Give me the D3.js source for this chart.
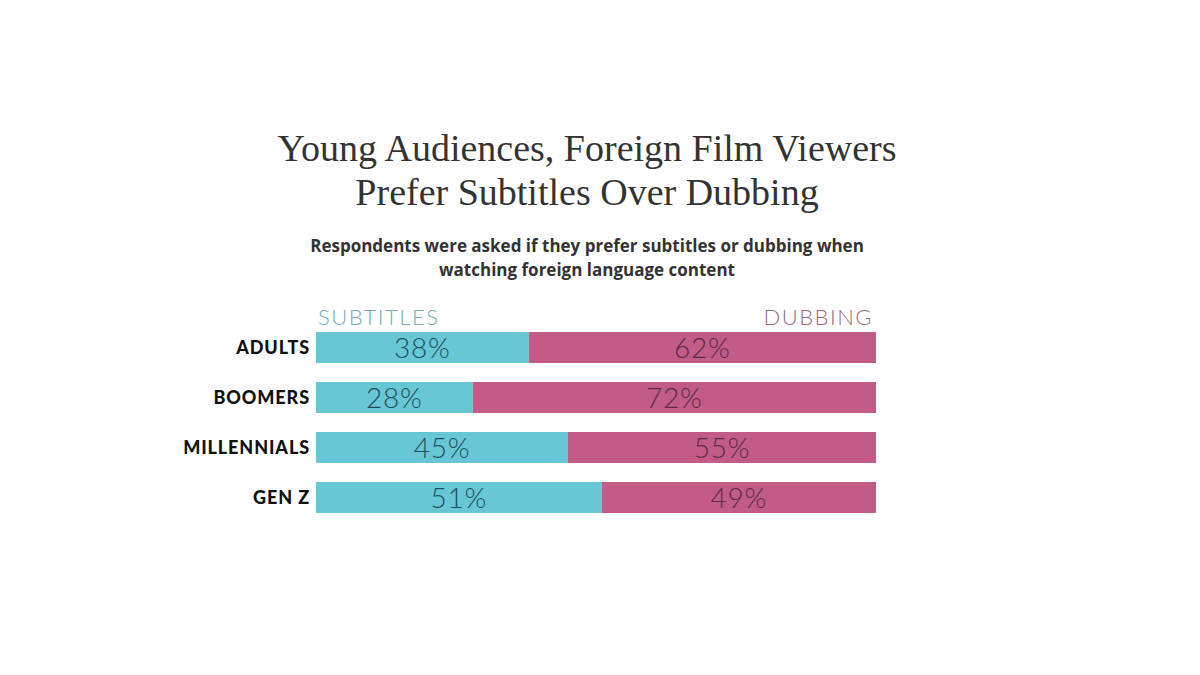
<!DOCTYPE html>
<html>
<head>
<meta charset="utf-8">
<script src="https://cdn.jsdelivr.net/npm/d3@7"></script>
<style>
  body { margin: 0; background: #fff; }
</style>
</head>
<body>
<div id="container"></div>
<script>
const groups = ["ADULTS", "BOOMERS", "MILLENNIALS", "GEN Z"];
const subtitles = [38, 28, 45, 51];
const dubbing = [62, 72, 55, 49];
const seriesNames = ["SUBTITLES", "DUBBING"];

const width = 1200;
const height = 675;
const barLeft = 316;
const barRight = 876;

const svg = d3.select("#container").append("svg")
  .attr("width", width)
  .attr("height", height);

svg.append("rect").attr("width", width).attr("height", height).attr("fill", "#fff");

// titles
const title = svg.append("text")
  .attr("text-anchor", "middle")
  .attr("font-family", "Liberation Serif")
  .attr("font-size", 38)
  .attr("fill", "#333");
title.append("tspan").attr("x", 587).attr("y", 161).text("Young Audiences, Foreign Film Viewers");
title.append("tspan").attr("x", 587).attr("y", 205).text("Prefer Subtitles Over Dubbing");

const sub = svg.append("text")
  .attr("text-anchor", "middle")
  .attr("font-family", "Open Sans")
  .attr("font-weight", 700)
  .attr("font-size", 17)
  .attr("fill", "#333");
sub.append("tspan").attr("x", 587).attr("y", 252).text("Respondents were asked if they prefer subtitles or dubbing when");
sub.append("tspan").attr("x", 587).attr("y", 276).text("watching foreign language content");

// scales
const x = d3.scaleLinear().domain([0, 100]).range([barLeft, barRight]);
const y = d3.scaleBand().domain(groups).range([332, 513]).paddingInner(0.38).paddingOuter(0);

const rows = groups.map((g, i) => ({ group: g, sub: subtitles[i], dub: dubbing[i] }));

// legend headers
svg.append("text")
  .attr("x", x(0) + 2)
  .attr("y", 325)
  .attr("font-family", "Lato")
  .attr("font-weight", 300)
  .attr("font-size", 22)
  .attr("letter-spacing", 1.5)
  .attr("fill", "#7aa9b4")
  .text(seriesNames[0]);
svg.append("text")
  .attr("x", x(100) - 3)
  .attr("y", 325)
  .attr("text-anchor", "end")
  .attr("font-family", "Lato")
  .attr("font-weight", 300)
  .attr("font-size", 22)
  .attr("letter-spacing", 1.5)
  .attr("fill", "#9a6a83")
  .text(seriesNames[1]);

const rowG = svg.selectAll(".row").data(rows).enter()
  .append("g")
  .attr("class", "row");

rowG.append("rect")
  .attr("x", x(0))
  .attr("y", d => y(d.group))
  .attr("width", d => x(d.sub) - x(0))
  .attr("height", y.bandwidth())
  .attr("fill", "#68c7d4");

rowG.append("rect")
  .attr("x", d => x(d.sub))
  .attr("y", d => y(d.group))
  .attr("width", d => x(d.sub + d.dub) - x(d.sub))
  .attr("height", y.bandwidth())
  .attr("fill", "#c25c87");

rowG.append("text")
  .attr("x", d => (x(0) + x(d.sub)) / 2)
  .attr("y", d => y(d.group) + y.bandwidth() / 2 + 10)
  .attr("text-anchor", "middle")
  .attr("font-family", "Lato")
  .attr("font-weight", 300)
  .attr("font-size", 28)
  .attr("letter-spacing", 0.8)
  .attr("fill", "#1e4f5c")
  .text(d => d.sub + "%");

rowG.append("text")
  .attr("x", d => (x(d.sub) + x(d.sub + d.dub)) / 2)
  .attr("y", d => y(d.group) + y.bandwidth() / 2 + 10)
  .attr("text-anchor", "middle")
  .attr("font-family", "Lato")
  .attr("font-weight", 300)
  .attr("font-size", 28)
  .attr("letter-spacing", 0.8)
  .attr("fill", "#5b2b43")
  .text(d => d.dub + "%");

rowG.append("text")
  .attr("x", x(0) - 6)
  .attr("y", d => y(d.group) + y.bandwidth() / 2 + 6)
  .attr("text-anchor", "end")
  .attr("font-family", "Lato")
  .attr("font-weight", 900)
  .attr("font-size", 18)
  .attr("letter-spacing", 0.9)
  .attr("fill", "#111")
  .text(d => d.group);
</script>
</body>
</html>
